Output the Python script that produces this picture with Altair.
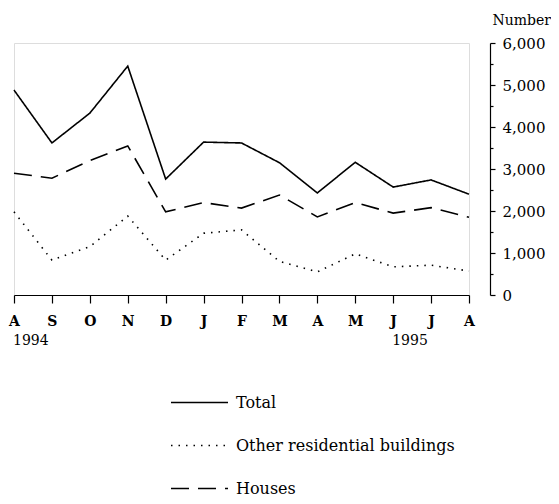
import altair as alt
import pandas as pd

months = ["A", "S", "O", "N", "D", "J", "F", "M", "A", "M", "J", "J", "A"]
total = [4880, 3620, 4330, 5450, 2760, 3640, 3620, 3150, 2430, 3160, 2570, 2740, 2400]
other = [1980, 830, 1150, 1880, 830, 1470, 1550, 800, 550, 980, 670, 710, 570]
houses = [2900, 2780, 3200, 3550, 1980, 2200, 2070, 2380, 1860, 2200, 1950, 2080, 1850]
series_names = ["Total", "Other residential buildings", "Houses"]
year_labels = ["1994", "1995"]
year_idx = [0, 10]
y_ticks = [0, 500, 1000, 1500, 2000, 2500, 3000, 3500, 4000, 4500, 5000, 5500, 6000]

rows = []
for name, vals in zip(series_names, [total, other, houses]):
    for i, v in enumerate(vals):
        rows.append({"idx": i, "value": v, "series": name})
df = pd.DataFrame(rows)
years_df = pd.DataFrame({"idx": year_idx, "label": year_labels})

FONT = "DejaVu Serif"
month_js = "[" + ",".join("'%s'" % m for m in months) + "]"

x_scale = alt.Scale(domain=[0, 12], nice=False, zero=False)
x_axis = alt.Axis(
    values=list(range(13)), labelExpr=month_js + "[datum.value]",
    title=None, grid=False, tickSize=8, labelPadding=11, labelOverlap=False,
    labelFont=FONT, labelFontSize=14, labelFontWeight="bold",
    labelColor="black", domainColor="black", tickColor="black",
    domainWidth=1.2, tickWidth=1.2, labelFlush=False)

lines = alt.Chart(df).mark_line(color="black", strokeWidth=1.6).encode(
    x=alt.X("idx:Q", scale=x_scale, axis=x_axis),
    y=alt.Y("value:Q", scale=alt.Scale(domain=[0, 6000], nice=False), axis=alt.Axis(
        orient="right", offset=21, values=y_ticks, labelOverlap=False,
        labelExpr="datum.value % 1000 === 0 ? format(datum.value, ',') : ''",
        tickSize={"condition": {"test": "datum.value % 1000 === 0", "value": 5}, "value": 3},
        labelPadding=7, grid=False, title="Number", titleAngle=0, titleX=2, titleY=-23,
        titleAlign="left", titleBaseline="middle", titleFont=FONT, titleFontSize=14,
        titleFontWeight="normal", titleColor="black",
        labelFont=FONT, labelFontSize=15, labelColor="black",
        domainColor="black", tickColor="black", domainWidth=1.2, tickWidth=1.2)),
    strokeDash=alt.StrokeDash("series:N", scale=alt.Scale(
        domain=series_names, range=[[1, 0], [1.5, 6], [18, 9]]),
        legend=alt.Legend(
            title=None, orient="none", legendX=156, legendY=330, direction="vertical",
            symbolType="stroke", symbolSize=3249, symbolStrokeWidth=1.6,
            symbolStrokeColor="black", rowPadding=5, labelOffset=7,
            labelFont=FONT, labelFontSize=16, labelColor="black", labelLimit=0)),
    order="idx:Q",
)

years = alt.Chart(years_df).mark_text(
    align="left", baseline="middle", font=FONT, fontSize=14, color="black", dx=-1
).encode(
    x=alt.X("idx:Q", scale=x_scale, axis=x_axis),
    y=alt.value(298),
    text="label:N",
)

chart = alt.layer(lines, years).properties(
    width=455, height=252,
    autosize=alt.AutoSizeParams(type="none"),
    padding={"left": 6, "top": 35, "right": 82, "bottom": 201},
).configure_view(stroke=None).configure(background="white")

chart.save("out.html", embed_options={"renderer": "svg", "actions": False})
